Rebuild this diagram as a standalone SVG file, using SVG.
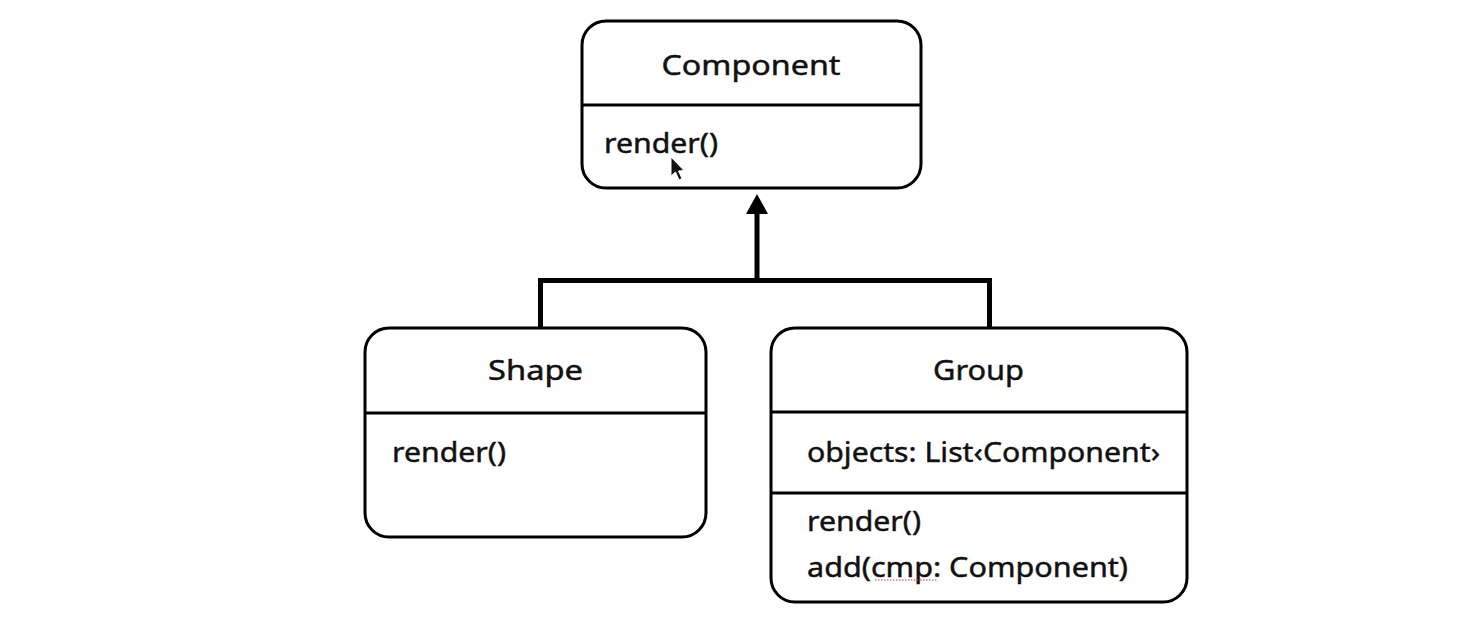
<svg xmlns="http://www.w3.org/2000/svg" width="1465" height="636" viewBox="0 0 1465 636">
<style>
  .box { fill: #ffffff; stroke: #000000; stroke-width: 3; }
  .div { stroke: #000000; stroke-width: 3; }
  .t { font-family: "Noto Sans", "Open Sans", "Liberation Sans", sans-serif; font-size: 27px; fill: #111111; stroke: #111111; stroke-width: 0.45; }
  .title { text-anchor: middle; }
  .conn { fill: none; stroke: #000000; stroke-width: 5; stroke-linejoin: miter; }
</style>
<rect width="1465" height="636" fill="#ffffff"/>

<g id="connectors">
  <path class="conn" d="M540.5 327 V280.5 H989.5 V327"/>
  <line class="conn" x1="757" y1="280.5" x2="757" y2="212"/>
  <polygon points="746,214 768,214 757,194" fill="#000000"/>
</g>

<g id="node-component">
  <rect class="box" x="582" y="21" width="339" height="167" rx="24" ry="24"/>
  <line class="div" x1="582" y1="105" x2="921" y2="105"/>
  <text class="t title" x="751" y="75" textLength="179" lengthAdjust="spacingAndGlyphs">Component</text>
  <text class="t" x="604" y="153" textLength="114" lengthAdjust="spacingAndGlyphs">render()</text>
  <path d="M671 157 L671 176 L675.5 172 L679 180 L682 178.5 L678.5 171 L684 170.5 Z" fill="#111111" stroke="#ffffff" stroke-width="1"/>
</g>

<g id="node-shape">
  <rect class="box" x="365" y="328" width="341" height="209" rx="24" ry="24"/>
  <line class="div" x1="365" y1="413" x2="706" y2="413"/>
  <text class="t title" x="535.5" y="380" textLength="95" lengthAdjust="spacingAndGlyphs">Shape</text>
  <text class="t" x="392" y="462" textLength="114" lengthAdjust="spacingAndGlyphs">render()</text>
</g>

<g id="node-group">
  <rect class="box" x="771" y="328" width="416" height="274" rx="24" ry="24"/>
  <line class="div" x1="771" y1="412" x2="1187" y2="412"/>
  <line class="div" x1="771" y1="493" x2="1187" y2="493"/>
  <text class="t title" x="978.5" y="380" textLength="91" lengthAdjust="spacingAndGlyphs">Group</text>
  <text class="t" x="807" y="462" textLength="353" lengthAdjust="spacingAndGlyphs">objects: List‹Component›</text>
  <text class="t" x="807" y="531" textLength="114" lengthAdjust="spacingAndGlyphs">render()</text>
  <text class="t" x="807" y="577" textLength="321" lengthAdjust="spacingAndGlyphs">add(cmp: Component)</text>
  <line x1="875" y1="580" x2="937" y2="580" stroke="#d03030" stroke-width="1" stroke-dasharray="1.5,1.5"/>
</g>
</svg>
